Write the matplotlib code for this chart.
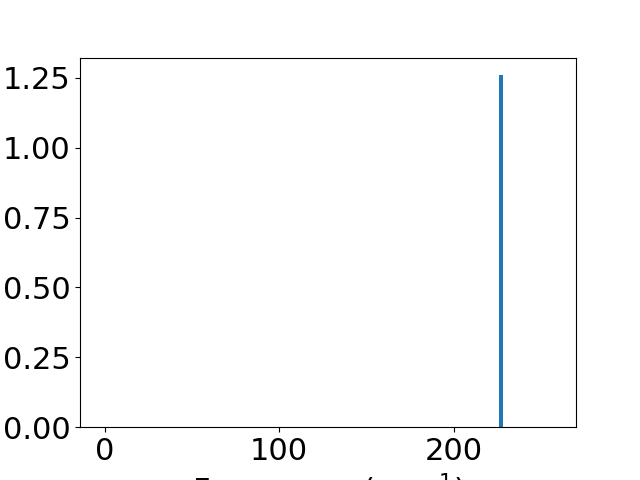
import matplotlib
matplotlib.use("Agg")
import matplotlib.pyplot as plt

frequencies = [0, 227.3, 256]
intensities = [0.0, 1.259, 0.0]
bar_width = 2.3

plt.rcParams['font.size'] = 22
fig, ax = plt.subplots(figsize=(6.4, 4.8), dpi=100)
ax.bar(frequencies, intensities, width=bar_width, color='#1f77b4')
ax.set_xlabel('Frequency (cm$^{-1}$)')
fig.savefig('out.png')
